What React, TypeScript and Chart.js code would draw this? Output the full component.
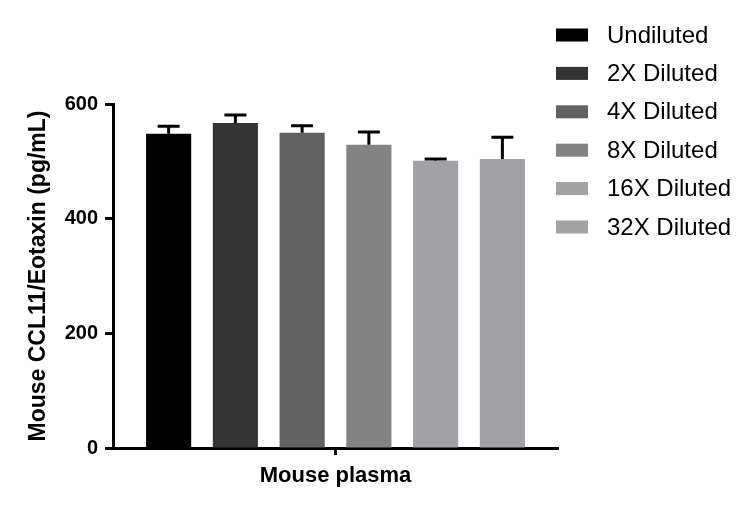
import { useEffect, useRef } from 'react';
import { Chart, registerables } from 'chart.js';

Chart.register(...registerables);

const CATEGORIES = ['Mouse plasma'];
const SERIES_LABELS = ['Undiluted', '2X Diluted', '4X Diluted', '8X Diluted', '16X Diluted', '32X Diluted'];
const MEANS = [548, 567, 550, 529, 501, 504];
const SDS = [13, 14, 12, 22, 3, 38];
const COLORS = ['#000000', '#333333', '#626262', '#838383', '#a2a2a6', '#a2a2a6'];
const Y_TICKS = [0, 200, 400, 600];

const errorBars = {
  id: 'errorBars',
  afterDatasetsDraw(chart: Chart) {
    const { ctx } = chart;
    const y = chart.scales.y;
    ctx.save();
    ctx.strokeStyle = '#000';
    ctx.lineWidth = 3;
    chart.data.datasets.forEach((_ds, i) => {
      const meta = chart.getDatasetMeta(i);
      meta.data.forEach((bar: any) => {
        const top = y.getPixelForValue(MEANS[i] + SDS[i]);
        ctx.beginPath();
        ctx.moveTo(bar.x, bar.y);
        ctx.lineTo(bar.x, top);
        ctx.moveTo(bar.x - 11, top);
        ctx.lineTo(bar.x + 11, top);
        ctx.stroke();
      });
    });
    ctx.restore();
  },
};

// legend drawn by hand so the box/text gap matches the reference
const sideLegend = {
  id: 'sideLegend',
  afterDraw(chart: Chart) {
    const { ctx } = chart;
    ctx.save();
    ctx.font = '24px "Liberation Sans", Arial, sans-serif';
    ctx.textBaseline = 'middle';
    ctx.textAlign = 'left';
    chart.data.datasets.forEach((ds, i) => {
      const cy = 35 + i * 38.4;
      ctx.fillStyle = ds.backgroundColor as string;
      ctx.fillRect(556, cy - 6.5, 32, 13);
      ctx.fillStyle = '#000';
      ctx.fillText(ds.label ?? '', 607, cy + 1);
    });
    ctx.restore();
  },
};

export default function App() {
  const canvasRef = useRef<HTMLCanvasElement>(null);
  const chartRef = useRef<Chart<'bar'> | null>(null);

  useEffect(() => {
    const canvas = canvasRef.current;
    if (!canvas) return;
    chartRef.current?.destroy();

    chartRef.current = new Chart(canvas, {
      type: 'bar',
      data: {
        labels: CATEGORIES,
        datasets: SERIES_LABELS.map((label, i) => ({
          label,
          data: [MEANS[i]],
          backgroundColor: COLORS[i],
          borderWidth: 0,
          categoryPercentage: 0.9,
          barPercentage: 0.676,
        })),
      },
      options: {
        responsive: true,
        maintainAspectRatio: false,
        animation: false,
        layout: { padding: { left: 0, right: 195, top: 104, bottom: 0 } },
        plugins: {
          legend: { display: false },
          tooltip: { enabled: false },
        },
        scales: {
          x: {
            z: 1,
            afterFit: (scale) => {
              scale.height = 59;
            },
            grid: {
              offset: false,
              drawOnChartArea: false,
              drawTicks: true,
              tickLength: 7,
              tickWidth: 3,
              tickColor: '#000',
            },
            border: { display: true, width: 3, color: '#000' },
            ticks: {
              color: '#000',
              padding: 8,
              font: { family: '"Liberation Sans", Arial, sans-serif', size: 22, weight: 'bold' },
            },
          },
          y: {
            min: 0,
            max: 600,
            afterFit: (scale) => {
              scale.width = 113;
            },
            afterBuildTicks: (scale) => {
              scale.ticks = Y_TICKS.map((v) => ({ value: v }));
            },
            grid: {
              drawOnChartArea: false,
              drawTicks: true,
              tickLength: 8,
              tickWidth: 3,
              tickColor: '#000',
            },
            border: { display: true, width: 3, color: '#000' },
            ticks: {
              color: '#000',
              padding: 7,
              font: { family: '"Liberation Sans", Arial, sans-serif', size: 20, weight: 'bold' },
            },
            title: {
              display: true,
              text: 'Mouse CCL11/Eotaxin (pg/mL)',
              color: '#000',
              padding: { top: 25, bottom: 0 },
              font: { family: '"Liberation Sans", Arial, sans-serif', size: 23, weight: 'bold' },
            },
          },
        },
      },
      plugins: [errorBars, sideLegend],
    });

    return () => {
      chartRef.current?.destroy();
      chartRef.current = null;
    };
  }, []);

  return (
    <div style={{ position: 'fixed', left: 0, top: 0, width: 753, height: 507, background: '#fff' }}>
      <canvas ref={canvasRef} aria-label="Mouse CCL11/Eotaxin bar chart" />
    </div>
  );
}
